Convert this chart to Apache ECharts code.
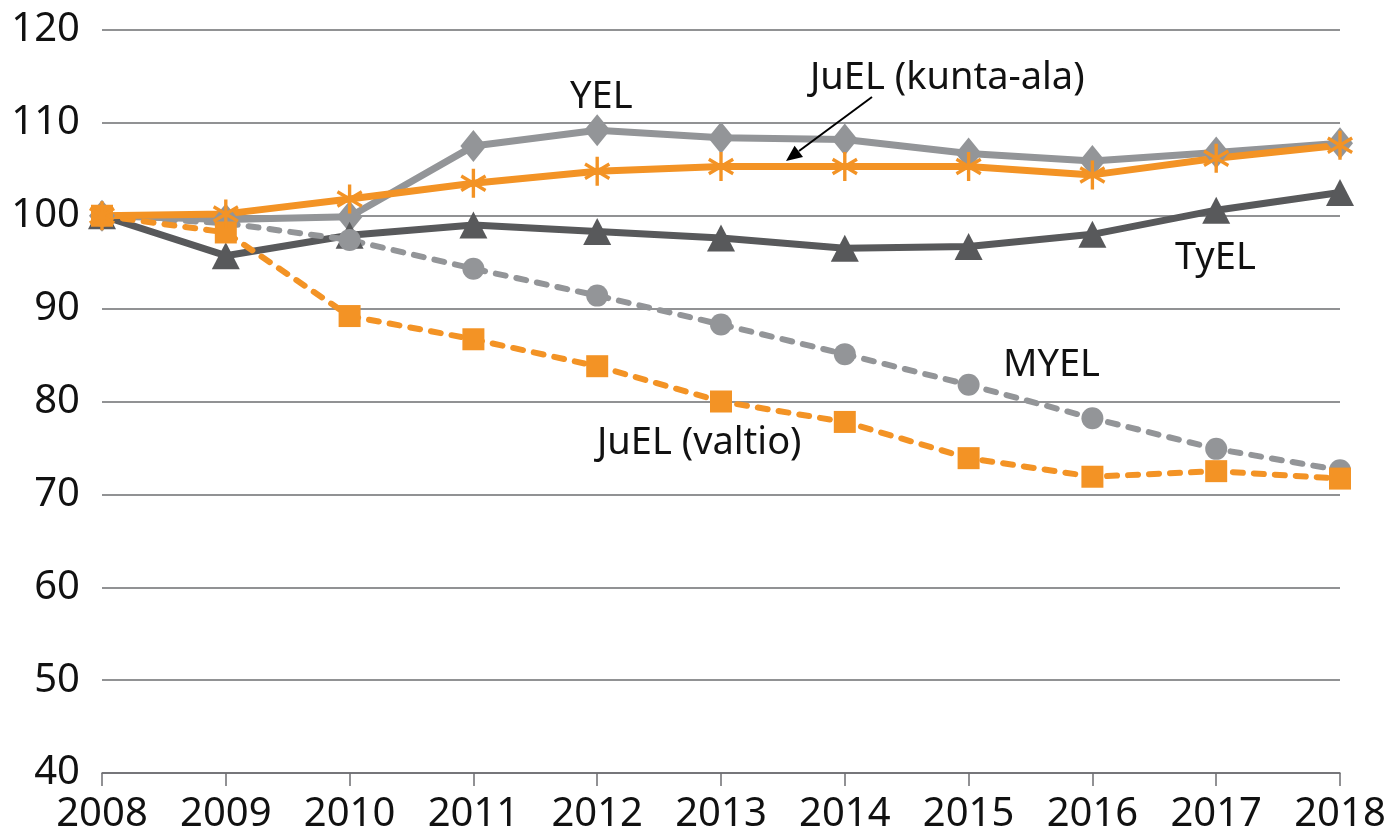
<!DOCTYPE html>
<html>
<head>
<meta charset="utf-8">
<script src="https://cdn.jsdelivr.net/npm/echarts@6/dist/echarts.min.js"></script>
<style>
  html, body { margin: 0; padding: 0; background: #fff; }
  #chart { width: 1394px; height: 836px; }
</style>
</head>
<body>
<div id="chart"></div>
<script>
// data
const years = ['2008', '2009', '2010', '2011', '2012', '2013', '2014', '2015', '2016', '2017', '2018']
const yel = [100, 99.6, 99.9, 107.5, 109.2, 108.4, 108.2, 106.7, 105.9, 106.8, 107.8]
const juelKunta = [100, 100.2, 101.8, 103.5, 104.8, 105.3, 105.3, 105.3, 104.4, 106.2, 107.6]
const tyel = [100, 95.7, 97.9, 99.0, 98.3, 97.6, 96.5, 96.7, 98.0, 100.6, 102.5]
const myel = [100, 99.2, 97.4, 94.3, 91.4, 88.3, 85.1, 81.8, 78.2, 74.9, 72.6]
const juelValtio = [100, 98.2, 89.2, 86.7, 83.8, 80.0, 77.8, 73.9, 71.9, 72.5, 71.7]

const ORANGE = '#f39325'
const LIGHT = '#939598'
const DARK = '#58595b'
const FONT = '"Noto Sans", "Open Sans", sans-serif'

// asterisk marker: vertical bar + two diagonals
const star = 'path://M44,0 L44,100 L56,100 L56,0 Z ' +
  'M90.3,80.2 L96.3,69.8 L9.7,19.8 L3.7,30.2 Z ' +
  'M96.3,30.2 L90.3,19.8 L3.7,69.8 L9.7,80.2 Z'

const chart = echarts.init(document.getElementById('chart'))

function label (text, x, y) {
  return {
    type: 'text',
    x: x,
    y: y,
    style: {
      text: text,
      fill: '#111',
      font: '38px ' + FONT,
      verticalAlign: 'middle'
    },
    z: 100
  }
}

const option = {
  animation: false,
  grid: {
    left: 102,
    right: 54,
    top: 30,
    bottom: 63,
    containLabel: false
  },
  xAxis: {
    type: 'category',
    boundaryGap: false,
    data: years,
    axisLine: { lineStyle: { color: '#6d6e71', width: 1.5 } },
    axisTick: { length: 13, lineStyle: { color: '#6d6e71', width: 1.5 } },
    axisLabel: { color: '#111', fontSize: 40, fontFamily: FONT, margin: 22 },
    splitLine: { show: false }
  },
  yAxis: {
    type: 'value',
    min: 40,
    max: 120,
    interval: 10,
    axisLine: { show: false },
    axisTick: { show: false },
    axisLabel: { color: '#111', fontSize: 40, fontFamily: FONT, margin: 22 },
    splitLine: { lineStyle: { color: '#6d6e71', width: 1.5 } }
  },
  series: [
    {
      name: 'YEL',
      type: 'line',
      data: yel,
      symbol: 'diamond',
      symbolSize: [26, 32],
      lineStyle: { color: LIGHT, width: 7 },
      itemStyle: { color: LIGHT }
    },
    {
      name: 'TyEL',
      type: 'line',
      data: tyel,
      symbol: 'triangle',
      symbolSize: [28, 27],
      lineStyle: { color: DARK, width: 7 },
      itemStyle: { color: DARK }
    },
    {
      name: 'MYEL',
      type: 'line',
      data: myel,
      symbol: 'circle',
      symbolSize: 22,
      lineStyle: { color: LIGHT, width: 6, type: [10, 11], cap: 'round' },
      itemStyle: { color: LIGHT }
    },
    {
      name: 'JuEL (valtio)',
      type: 'line',
      data: juelValtio,
      symbol: 'rect',
      symbolSize: 22,
      lineStyle: { color: ORANGE, width: 6, type: [10, 11], cap: 'round' },
      itemStyle: { color: ORANGE }
    },
    {
      name: 'JuEL (kunta-ala)',
      type: 'line',
      data: juelKunta,
      symbol: star,
      symbolSize: [26, 29],
      lineStyle: { color: ORANGE, width: 7 },
      itemStyle: { color: ORANGE }
    }
  ],
  graphic: [
    label('YEL', 570, 97),
    label('JuEL (kunta-ala)', 810, 78),
    label('TyEL', 1175, 258),
    label('MYEL', 1003, 365),
    label('JuEL (valtio)', 597, 443),
    {
      type: 'line',
      shape: { x1: 872, y1: 97, x2: 799, y2: 151 },
      style: { stroke: '#000', lineWidth: 2 },
      z: 100
    },
    {
      type: 'polygon',
      shape: { points: [[786, 161], [803, 157], [794.6, 145.8]] },
      style: { fill: '#000' },
      z: 100
    }
  ]
}

chart.setOption(option)
</script>
</body>
</html>
